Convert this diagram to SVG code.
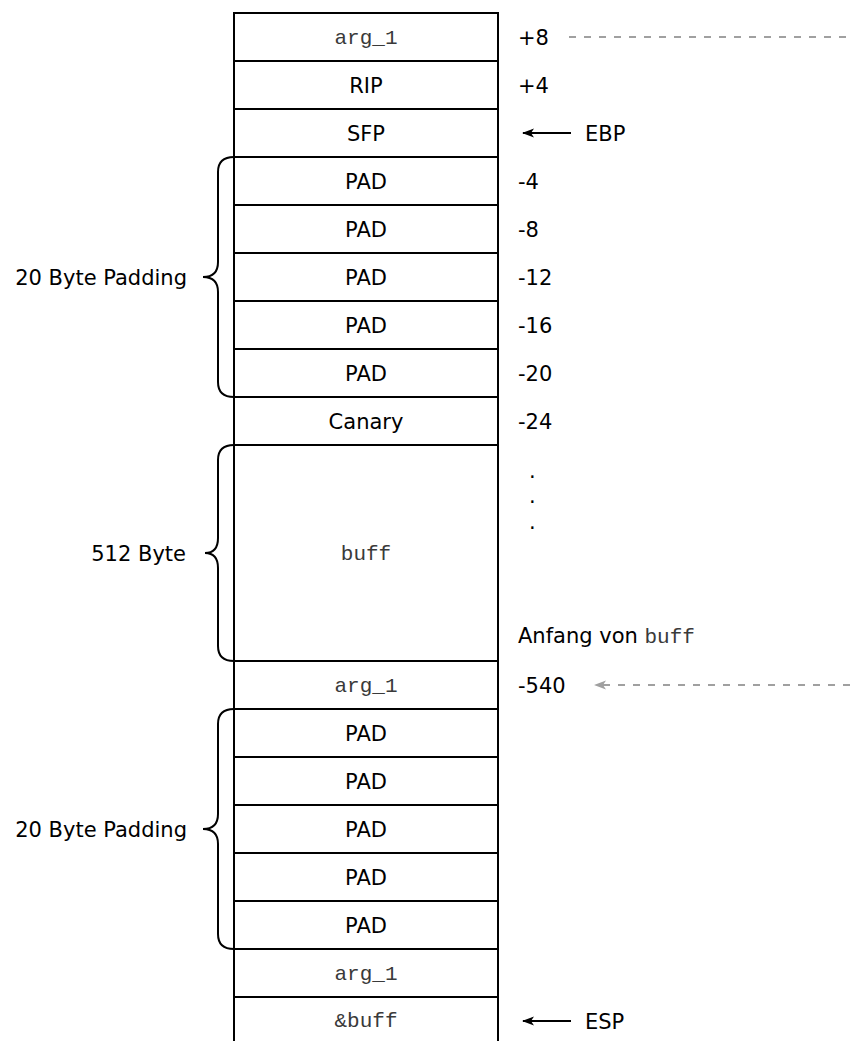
<svg xmlns="http://www.w3.org/2000/svg" width="850" height="1041" viewBox="0 0 850 1041">
<style>
.cell{fill:#fff;stroke:#000;stroke-width:2}
.t{font-family:"DejaVu Sans",Verdana,sans-serif;font-size:21px;fill:#000}
.c{text-anchor:middle}
.m{font-family:"Liberation Mono","Courier New",monospace;font-size:21px;fill:#3a3a3a}
.e{text-anchor:end}
.brace{fill:none;stroke:#000;stroke-width:2}
.arr{fill:none;stroke:#000;stroke-width:2}
.dash{fill:none;stroke:#a0a0a0;stroke-width:2;stroke-dasharray:7 8}
</style>
<defs>
<marker id="ah" viewBox="0 0 12 10" refX="11" refY="5" markerWidth="12" markerHeight="10" markerUnits="userSpaceOnUse" orient="auto">
<path d="M0,0.5 L12,5 L0,9.5 L3,5 Z" fill="#000"/>
</marker>
<marker id="ahg" viewBox="0 0 12 10" refX="11" refY="5" markerWidth="12" markerHeight="10" markerUnits="userSpaceOnUse" orient="auto">
<path d="M0,0.5 L12,5 L0,9.5 L3,5 Z" fill="#a0a0a0"/>
</marker>
</defs>
<rect width="850" height="1041" fill="#fff"/>

<g id="cell-arg1-top"><rect class="cell" x="234" y="13" width="264" height="48"/><text class="m c" x="366" y="44">arg_1</text></g>
<g id="cell-rip"><rect class="cell" x="234" y="61" width="264" height="48"/><text class="t c" x="366" y="93">RIP</text></g>
<g id="cell-sfp"><rect class="cell" x="234" y="109" width="264" height="48"/><text class="t c" x="366" y="141">SFP</text></g>
<g id="cell-pad1"><rect class="cell" x="234" y="157" width="264" height="48"/><text class="t c" x="366" y="189">PAD</text></g>
<g id="cell-pad2"><rect class="cell" x="234" y="205" width="264" height="48"/><text class="t c" x="366" y="237">PAD</text></g>
<g id="cell-pad3"><rect class="cell" x="234" y="253" width="264" height="48"/><text class="t c" x="366" y="285">PAD</text></g>
<g id="cell-pad4"><rect class="cell" x="234" y="301" width="264" height="48"/><text class="t c" x="366" y="333">PAD</text></g>
<g id="cell-pad5"><rect class="cell" x="234" y="349" width="264" height="48"/><text class="t c" x="366" y="381">PAD</text></g>
<g id="cell-canary"><rect class="cell" x="234" y="397" width="264" height="48"/><text class="t c" x="366" y="429">Canary</text></g>
<g id="cell-buff"><rect class="cell" x="234" y="445" width="264" height="216"/><text class="m c" x="366" y="560">buff</text></g>
<g id="cell-arg1-mid"><rect class="cell" x="234" y="661" width="264" height="48"/><text class="m c" x="366" y="692">arg_1</text></g>
<g id="cell-pad6"><rect class="cell" x="234" y="709" width="264" height="48"/><text class="t c" x="366" y="741">PAD</text></g>
<g id="cell-pad7"><rect class="cell" x="234" y="757" width="264" height="48"/><text class="t c" x="366" y="789">PAD</text></g>
<g id="cell-pad8"><rect class="cell" x="234" y="805" width="264" height="48"/><text class="t c" x="366" y="837">PAD</text></g>
<g id="cell-pad9"><rect class="cell" x="234" y="853" width="264" height="48"/><text class="t c" x="366" y="885">PAD</text></g>
<g id="cell-pad10"><rect class="cell" x="234" y="901" width="264" height="48"/><text class="t c" x="366" y="933">PAD</text></g>
<g id="cell-arg1-low"><rect class="cell" x="234" y="949" width="264" height="48"/><text class="m c" x="366" y="980">arg_1</text></g>
<g id="cell-addr-buff"><rect class="cell" x="234" y="997" width="264" height="48"/><text class="m c" x="366" y="1027">&amp;buff</text></g>

<g id="offsets">
<text class="t" x="518" y="45">+8</text>
<text class="t" x="518" y="93">+4</text>
<text class="t" x="518" y="189">-4</text>
<text class="t" x="518" y="237">-8</text>
<text class="t" x="518" y="285">-12</text>
<text class="t" x="518" y="333">-16</text>
<text class="t" x="518" y="381">-20</text>
<text class="t" x="518" y="429">-24</text>
<text class="t" x="529" y="478">.</text>
<text class="t" x="529" y="503">.</text>
<text class="t" x="529" y="529">.</text>
<text class="t" x="518" y="643">Anfang von <tspan class="m">buff</tspan></text>
<text class="t" x="518" y="693">-540</text>
</g>

<g id="label-ebp"><text class="t" x="585" y="141">EBP</text></g>
<g id="label-esp"><text class="t" x="585" y="1029">ESP</text></g>

<g id="brace-padding-1">
<path class="brace" d="M234,157 Q218,157 218,172 L218,262 Q218,277 203,277 Q218,277 218,292 L218,382 Q218,397 234,397"/>
<text class="t e" x="187" y="285">20 Byte Padding</text>
</g>
<g id="brace-buff">
<path class="brace" d="M234,445 Q218,445 218,460 L218,538 Q218,553 205,553 Q218,553 218,568 L218,646 Q218,661 234,661"/>
<text class="t e" x="186" y="561">512 Byte</text>
</g>
<g id="brace-padding-2">
<path class="brace" d="M234,709 Q218,709 218,724 L218,814 Q218,829 203,829 Q218,829 218,844 L218,934 Q218,949 234,949"/>
<text class="t e" x="187" y="837">20 Byte Padding</text>
</g>

<g id="connectors">
<line class="arr" x1="571" y1="133" x2="523" y2="133" marker-end="url(#ah)"/>
<line class="arr" x1="571" y1="1021" x2="523" y2="1021" marker-end="url(#ah)"/>
<line class="dash" x1="569" y1="37" x2="850" y2="37"/>
<line class="dash" x1="850" y1="685" x2="595" y2="685" marker-end="url(#ahg)"/>
</g>
</svg>
